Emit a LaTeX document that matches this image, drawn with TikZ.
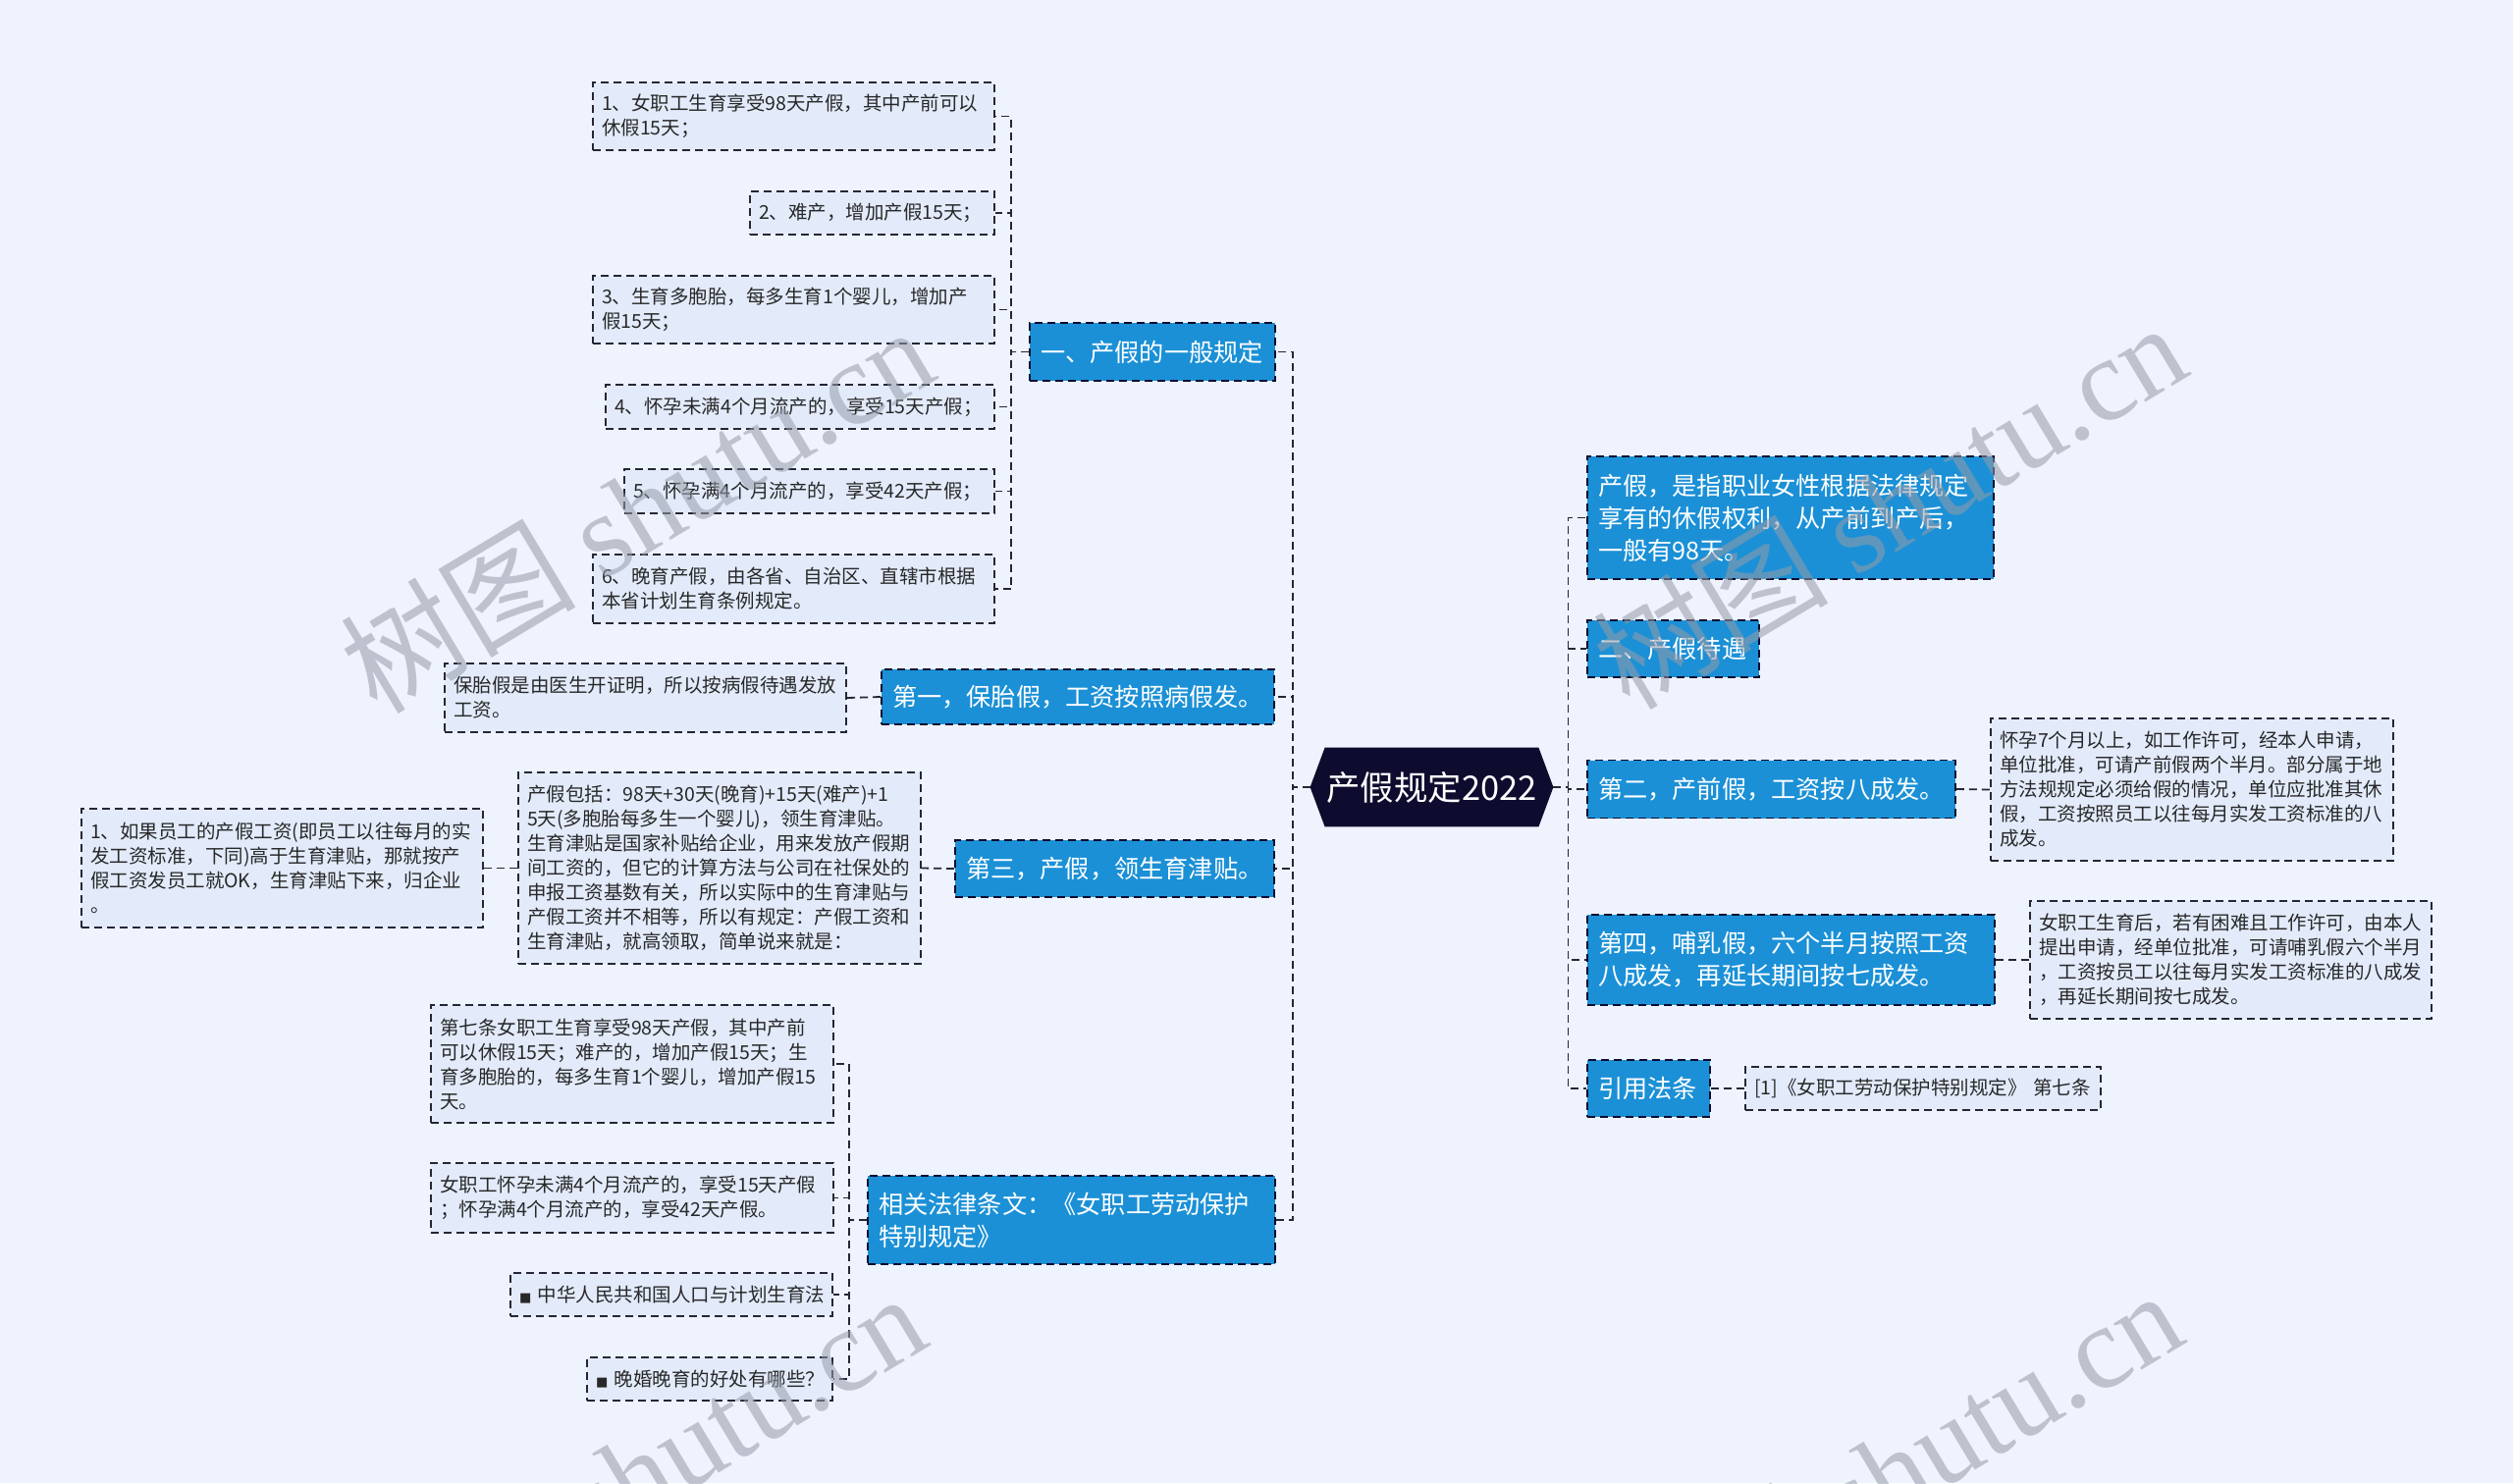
\documentclass[tikz,border=0pt]{standalone}
\usepackage{fontspec}
\setmainfont{Noto Sans CJK SC}
\newfontfamily\wmfont{Liberation Serif}
\newfontfamily\symfont{DejaVu Sans}
\usetikzlibrary{backgrounds}

\definecolor{pagebg}{RGB}{238,243,254}
\definecolor{leaffill}{RGB}{227,235,251}
\definecolor{branchfill}{RGB}{27,144,214}
\definecolor{rootfill}{RGB}{14,12,46}
\definecolor{edgecol}{RGB}{38,38,52}
\definecolor{leaftext}{RGB}{40,40,40}
\definecolor{wmgray}{RGB}{150,155,168}

\tikzset{
  link/.style      = {draw=edgecol, line width=0.9pt, dash pattern=on 4pt off 2.5pt},
  leaf/.style      = {draw=edgecol, line width=0.9pt, dash pattern=on 4pt off 2.5pt,
                      fill=leaffill, text=leaftext, align=left,
                      inner xsep=4.5pt, inner ysep=1pt,
                      font=\fontsize{9.75pt}{12.5pt}\selectfont},
  branch/.style    = {draw=rootfill, line width=0.9pt, dash pattern=on 4pt off 2.5pt,
                      fill=branchfill, text=white, align=left,
                      inner xsep=5.5pt, inner ysep=1pt,
                      font=\fontsize{12.6pt}{16.5pt}\selectfont},
  rootbox/.style   = {text=white, inner sep=0pt, minimum width=123.5pt,
                      minimum height=40pt, font=\fontsize{17.2pt}{20pt}\selectfont},
  wmark/.style     = {text=wmgray, opacity=0.55, rotate=31,
                      font=\fontsize{60pt}{60pt}\selectfont},
}
\newcommand{\blk}{{\symfont\fontsize{6.5pt}{6.5pt}\selectfont ■}}

\begin{document}
\begin{tikzpicture}[x=0.5pt, y=-0.5pt]

  \useasboundingbox (0,0) rectangle (2560,1511);
  \clip (0,0) rectangle (2560,1511);
  \begin{pgfonlayer}{background}
    \fill[pagebg] (0,0) rectangle (2560,1511);
  \end{pgfonlayer}

  % ---- root --------------------------------------------------------------
  \node[rootbox] (root) at (1458.5,802) {产假规定2022};
  \begin{pgfonlayer}{background}
    \fill[rootfill] (root.west) -- ([xshift=7.5pt]root.north west)
      -- ([xshift=-7.5pt]root.north east) -- (root.east)
      -- ([xshift=-7.5pt]root.south east) -- ([xshift=7.5pt]root.south west) -- cycle;
  \end{pgfonlayer}

  % ---- left branches -----------------------------------------------------
  \node[branch, text width=114pt, minimum height=29.5pt] (genrule) at (1174,358.5)
    {一、产假的一般规定};
  \node[branch, text width=189pt, minimum height=28pt] (keepleave) at (1098,710)
    {第一，保胎假，工资按照病假发。};
  \node[branch, text width=151.5pt, minimum height=29pt] (allowance) at (1135.5,885)
    {第三，产假，领生育津贴。};
  \node[branch, text width=196.5pt, minimum height=45pt] (lawtext) at (1091.5,1243)
    {相关法律条文：《女职工劳动保护\\特别规定》};

  % ---- general rules -----------------------------------------------------
  \node[leaf, text width=195.5pt, minimum height=34.5pt] (gen1) at (808.5,118.5)
    {1、女职工生育享受98天产假，其中产前可以\\休假15天；};
  \node[leaf, text width=115.5pt, minimum height=22pt] (gen2) at (888.5,217)
    {2、难产，增加产假15天；};
  \node[leaf, text width=195.5pt, minimum height=34.5pt] (gen3) at (808.5,315.5)
    {3、生育多胞胎，每多生育1个婴儿，增加产\\假15天；};
  \node[leaf, text width=189pt, minimum height=22.5pt] (gen4) at (815,414.5)
    {4、怀孕未满4个月流产的，享受15天产假；};
  \node[leaf, text width=179.5pt, minimum height=22.5pt] (gen5) at (824.5,500.5)
    {5、怀孕满4个月流产的，享受42天产假；};
  \node[leaf, text width=195.5pt, minimum height=35pt] (gen6) at (808.5,600)
    {6、晚育产假，由各省、自治区、直辖市根据\\本省计划生育条例规定。};

  % ---- notes on the left -------------------------------------------------
  \node[leaf, text width=195.5pt, minimum height=35pt] (keepnote) at (657.5,711)
    {保胎假是由医生开证明，所以按病假待遇发放\\工资。};
  \node[leaf, text width=196pt, minimum height=97.5pt] (allownote) at (733,884.5)
    {产假包括：98天+30天(晚育)+15天(难产)+1\\5天(多胞胎每多生一个婴儿)，领生育津贴。\\
     生育津贴是国家补贴给企业，用来发放产假期\\间工资的，但它的计算方法与公司在社保处的\\
     申报工资基数有关，所以实际中的生育津贴与\\产假工资并不相等，所以有规定：产假工资和\\
     生育津贴，就高领取，简单说来就是：};
  \node[leaf, text width=195.5pt, minimum height=60.5pt] (allowcase) at (287.5,884.5)
    {1、如果员工的产假工资(即员工以往每月的实\\发工资标准，下同)高于生育津贴，那就按产\\
     假工资发员工就OK，生育津贴下来，归企业\\。};
  \node[leaf, text width=196pt, minimum height=60pt] (law1) at (644,1084)
    {第七条女职工生育享受98天产假，其中产前\\可以休假15天；难产的，增加产假15天；生\\
     育多胞胎的，每多生育1个婴儿，增加产假15\\天。};
  \node[leaf, text width=196pt, minimum height=35.5pt] (law2) at (644,1220.5)
    {女职工怀孕未满4个月流产的，享受15天产假\\；怀孕满4个月流产的，享受42天产假。};
  \node[leaf, text width=155pt, minimum height=22pt] (law3) at (684,1319)
    {\mbox{\blk~中华人民共和国人口与计划生育法}};
  \node[leaf, text width=116pt, minimum height=22pt] (law4) at (723,1405)
    {\mbox{\blk~晚婚晚育的好处有哪些？}};

  % ---- right branches ----------------------------------------------------
  \node[branch, text width=196pt, minimum height=62.5pt] (definition) at (1824,527.5)
    {产假，是指职业女性根据法律规定\\享有的休假权利，从产前到产后，\\一般有98天。};
  \node[branch, text width=76.5pt, minimum height=29pt] (treatment) at (1704.5,661)
    {二、产假待遇};
  \node[branch, text width=176.5pt, minimum height=29.5pt] (prenatal) at (1804.5,804)
    {第二，产前假，工资按八成发。};
  \node[branch, text width=196.5pt, minimum height=46pt] (nursing) at (1824.5,978)
    {第四，哺乳假，六个半月按照工资\\八成发，再延长期间按七成发。};
  \node[branch, text width=51.5pt, minimum height=29pt] (citation) at (1679.5,1109)
    {引用法条};

  \node[leaf, text width=196pt, minimum height=72.5pt] (prenote) at (2233,804.5)
    {怀孕7个月以上，如工作许可，经本人申请，\\单位批准，可请产前假两个半月。部分属于地\\
     方法规规定必须给假的情况，单位应批准其休\\假，工资按照员工以往每月实发工资标准的八\\成发。};
  \node[leaf, text width=195.5pt, minimum height=60pt] (nursenote) at (2272.5,978)
    {女职工生育后，若有困难且工作许可，由本人\\提出申请，经单位批准，可请哺乳假六个半月\\
     ，工资按员工以往每月实发工资标准的八成发\\，再延长期间按七成发。};
  \node[leaf, text width=172pt, minimum height=22pt] (citenote) at (1959,1109)
    {[1]《女职工劳动保护特别规定》 第七条};

  % ---- connectors --------------------------------------------------------
  \draw[link] (root.west) -- ++(-18,0) |- (genrule.east);
  \draw[link] (root.west) -- ++(-18,0) |- (keepleave.east);
  \draw[link] (root.west) -- ++(-18,0) |- (allowance.east);
  \draw[link] (root.west) -- ++(-18,0) |- (lawtext.east);

  \draw[link] (root.east) -- ++(15,0) |- (definition.west);
  \draw[link] (root.east) -- ++(15,0) |- (treatment.west);
  \draw[link] (root.east) -- ++(15,0) |- (prenatal.west);
  \draw[link] (root.east) -- ++(15,0) |- (nursing.west);
  \draw[link] (root.east) -- ++(15,0) |- (citation.west);

  \draw[link] (genrule.west) -- ++(-18,0) |- (gen1.east);
  \draw[link] (genrule.west) -- ++(-18,0) |- (gen2.east);
  \draw[link] (genrule.west) -- ++(-18,0) |- (gen3.east);
  \draw[link] (genrule.west) -- ++(-18,0) |- (gen4.east);
  \draw[link] (genrule.west) -- ++(-18,0) |- (gen5.east);
  \draw[link] (genrule.west) -- ++(-18,0) |- (gen6.east);

  \draw[link] (keepleave.west) -- (keepnote.east);
  \draw[link] (allowance.west) -- (allownote.east);
  \draw[link] (allownote.west) -- (allowcase.east);

  \draw[link] (lawtext.west) -- ++(-18,0) |- (law1.east);
  \draw[link] (lawtext.west) -- ++(-18,0) |- (law2.east);
  \draw[link] (lawtext.west) -- ++(-18,0) |- (law3.east);
  \draw[link] (lawtext.west) -- ++(-18,0) |- (law4.east);

  \draw[link] (prenatal.east) -- (prenote.west);
  \draw[link] (nursing.east) -- (nursenote.west);
  \draw[link] (citation.east) -- (citenote.west);

  % ---- watermark ---------------------------------------------------------
  \node[wmark] (wmA) at (648,518)   {树图 {\wmfont shutu.cn}};
  \node[wmark] (wmB) at (1924,514)  {树图 {\wmfont shutu.cn}};
  \node[wmark] (wmC) at (640,1503)  {树图 {\wmfont shutu.cn}};
  \node[wmark] (wmD) at (1920,1500) {树图 {\wmfont shutu.cn}};
\end{tikzpicture}
\end{document}
